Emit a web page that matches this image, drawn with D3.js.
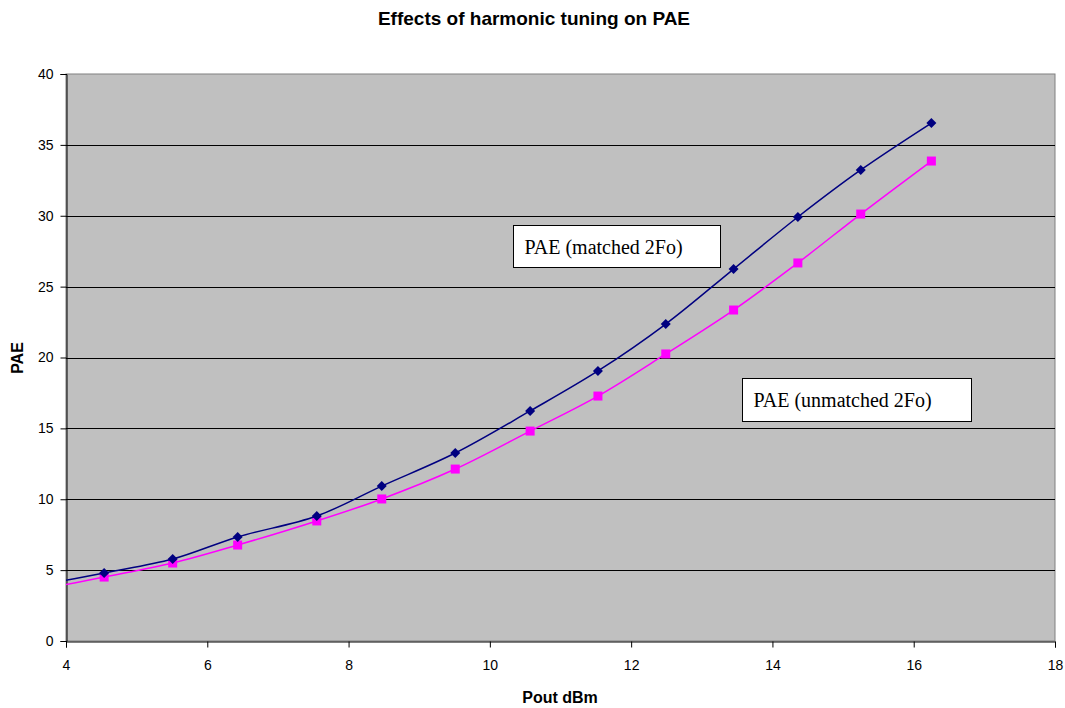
<!DOCTYPE html>
<html><head><meta charset="utf-8">
<script src="https://cdn.jsdelivr.net/npm/d3@7"></script>
<style>body{margin:0;background:#fff}svg{display:block}</style>
</head><body>
<svg id="c" width="1065" height="708"></svg>
<script>
const xTicks = [4,6,8,10,12,14,16,18];
const yTicks = [0,5,10,15,20,25,30,35,40];
const poutMatched = [3.55,4.54,5.51,6.43,7.55,8.47,9.51,10.57,11.53,12.49,13.45,14.36,15.25,16.25];
const paeMatched  = [3.85,4.80,5.78,7.34,8.82,10.93,13.26,16.23,19.05,22.36,26.24,29.91,33.23,36.54];
const poutUnmatched = [3.55,4.54,5.51,6.43,7.55,8.47,9.51,10.57,11.53,12.49,13.45,14.36,15.25,16.25];
const paeUnmatched  = [3.55,4.51,5.50,6.77,8.47,10.02,12.13,14.81,17.28,20.25,23.35,26.67,30.12,33.86];
const markerFrom = 1; // first point lies outside the axis range
const labels = ["PAE (matched 2Fo)","PAE (unmatched 2Fo)"];

const svg = d3.select("#c");
const L=66,R=1055,T=74,B=641;
const x = d3.scaleLinear().domain([4,18]).range([L,R]);
const y = d3.scaleLinear().domain([0,40]).range([B,T]);

svg.append("rect").attr("x",L).attr("y",T).attr("width",R-L).attr("height",B-T)
  .attr("fill","#c0c0c0").attr("stroke","#808080").attr("stroke-width",1);
svg.append("g").selectAll("line").data(yTicks.filter(d=>d>0 && d<40)).join("line")
  .attr("x1",L).attr("x2",R).attr("y1",d=>Math.round(y(d))+0.5).attr("y2",d=>Math.round(y(d))+0.5)
  .attr("stroke","#000").attr("stroke-width",1);

const xAxis = svg.append("g").attr("transform",`translate(0,${B+0.5})`)
  .call(d3.axisBottom(x).tickValues(xTicks).tickSize(6).tickPadding(13));
const yAxis = svg.append("g").attr("transform",`translate(${L+0.5},0)`)
  .call(d3.axisLeft(y).tickValues(yTicks).tickSize(6).tickPadding(7));
[xAxis,yAxis].forEach(a=>{
  a.selectAll("text").attr("font-family","Liberation Sans, Arial").attr("font-size",14).attr("fill","#000");
  a.select(".domain").attr("stroke","#000");
  a.selectAll(".tick line").attr("stroke","#000");
});

svg.append("clipPath").attr("id","clip").append("rect").attr("x",L).attr("y",T).attr("width",R-L).attr("height",B-T);
const line = d3.line().x(d=>x(d[0])).y(d=>y(d[1])).curve(d3.curveCatmullRom.alpha(0.5));
const series = [
  {xs:poutMatched, ys:paeMatched, color:"#000080", shape:d3.symbolSquare, size:50, rot:45},
  {xs:poutUnmatched, ys:paeUnmatched, color:"#ff00ff", shape:d3.symbolSquare, size:81, rot:0}
];
const g = svg.append("g").attr("clip-path","url(#clip)");
series.slice().reverse().forEach(s=>{
  const pts = s.xs.map((v,i)=>[v,s.ys[i]]);
  g.append("path").datum(pts).attr("d",line).attr("fill","none").attr("stroke",s.color).attr("stroke-width",1.5);
  g.selectAll(null).data(pts.slice(markerFrom)).join("path")
    .attr("transform",d=>`translate(${x(d[0])},${y(d[1])}) rotate(${s.rot})`)
    .attr("d",d3.symbol().type(s.shape).size(s.size)).attr("fill",s.color);
});

// text boxes (anchored in data coordinates)
const boxes = [
  {t:labels[0], bx:10.33, by:29.35, w:207, h:42},
  {t:labels[1], bx:13.57, by:18.55, w:229, h:43}
];
boxes.forEach(b=>{
  const px=Math.round(x(b.bx))+0.5, py=Math.round(y(b.by))+0.5;
  svg.append("rect").attr("x",px).attr("y",py).attr("width",b.w).attr("height",b.h)
    .attr("fill","#fff").attr("stroke","#000").attr("stroke-width",1);
  svg.append("text").attr("x",px+11).attr("y",py+b.h/2+7).text(b.t)
    .attr("font-family","Liberation Serif, Times New Roman").attr("font-size",20).attr("fill","#000");
});

svg.append("text").attr("x",534).attr("y",25).attr("text-anchor","middle")
  .attr("font-family","Liberation Sans, Arial").attr("font-weight","bold").attr("font-size",19)
  .text("Effects of harmonic tuning on PAE");
svg.append("text").attr("x",560).attr("y",703).attr("text-anchor","middle")
  .attr("font-family","Liberation Sans, Arial").attr("font-weight","bold").attr("font-size",16)
  .text("Pout dBm");
svg.append("text").attr("transform","translate(23,358) rotate(-90)").attr("text-anchor","middle")
  .attr("font-family","Liberation Sans, Arial").attr("font-weight","bold").attr("font-size",16)
  .text("PAE");
</script>
</body></html>
